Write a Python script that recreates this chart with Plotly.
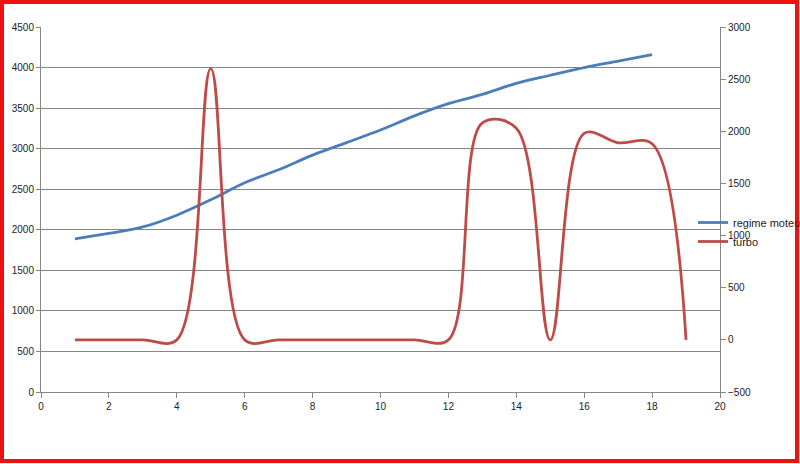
import plotly.graph_objects as go

# Data
x_regime = list(range(1, 19))
regime_moteur = [1889, 1955, 2035, 2180, 2370, 2580, 2740, 2920, 3075, 3230,
                 3405, 3555, 3670, 3805, 3905, 4000, 4080, 4160]
x_turbo = list(range(1, 20))
turbo = [0, 0, 0, 0, 2600, 0, 0, 0, 0, 0, 0, 0, 2080, 2030, 0, 1980, 1890, 1880, 0]

x_ticks = list(range(0, 21, 2))
y_ticks = list(range(0, 4501, 500))
y2_ticks = list(range(-500, 3001, 500))

W, H = 800, 464
L, R, T, B = 41, 80, 27, 72

fig = go.Figure()
fig.add_trace(go.Scatter(
    x=x_regime, y=regime_moteur, name="regime moteur", mode="lines",
    line=dict(color="#4A7EBB", width=2.8, shape="spline", smoothing=1.0),
    yaxis="y"))
fig.add_trace(go.Scatter(
    x=x_turbo, y=turbo, name="turbo", mode="lines",
    line=dict(color="#BE4B48", width=2.8, shape="spline", smoothing=1.0),
    yaxis="y2"))

pw = W - L - R
ph = H - T - B

font = dict(family="Liberation Sans, Arial, sans-serif", size=10, color="#222222")

fig.update_layout(
    width=W, height=H,
    margin=dict(l=L, r=R, t=T, b=B, pad=0, autoexpand=False),
    paper_bgcolor="white", plot_bgcolor="white",
    font=font,
    showlegend=True,
    legend=dict(x=(693 - L) / pw, y=(H - B - 208) / ph, xanchor="left", yanchor="top",
                bgcolor="rgba(0,0,0,0)", font=dict(size=11, color="#222222"),
                itemwidth=30, tracegroupgap=0),
    xaxis=dict(range=[0, 20], tickvals=x_ticks, showgrid=False, zeroline=False,
               showline=True, linecolor="#868686", linewidth=1, automargin=False,
               ticks="outside", ticklen=5, tickcolor="#868686"),
    yaxis=dict(range=[0, 4500], tickvals=y_ticks, showgrid=True, gridcolor="#868686",
               gridwidth=1, zeroline=False, showline=True, linecolor="#868686",
               automargin=False, ticks="outside", ticklen=4, tickcolor="#868686"),
    yaxis2=dict(range=[-500, 3000], tickvals=y2_ticks, overlaying="y", side="right",
                showgrid=False, zeroline=False, showline=True, linecolor="#868686",
                automargin=False, ticks="outside", ticklen=5, tickcolor="#868686"),
)

# red frame around the whole picture
fig.add_shape(type="rect", xref="paper", yref="paper",
              x0=(2 - L) / pw, x1=(W - 3 - L) / pw,
              y0=-(B - 3) / ph, y1=1 + (T - 2) / ph,
              line=dict(color="#EE1111", width=4), fillcolor="rgba(0,0,0,0)",
              layer="above")

fig.write_html("out.html", config={"displayModeBar": False},
               post_script="document.body.style.margin='0';document.body.style.overflow='hidden';")
